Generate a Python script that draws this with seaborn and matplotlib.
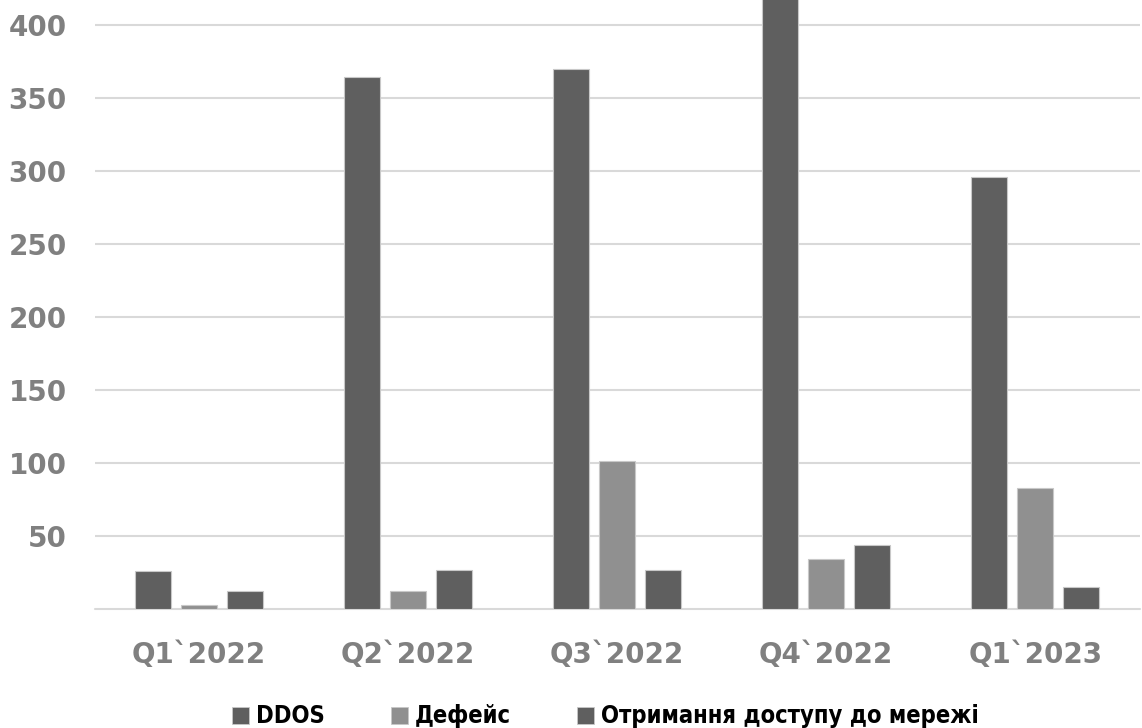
import pandas as pd
import seaborn as sns
import matplotlib.pyplot as plt
from matplotlib.patches import Patch

quarters = ["Q1`2022", "Q2`2022", "Q3`2022", "Q4`2022", "Q1`2023"]
series = ["DDOS", "Дефейс", "Отримання доступу до мережі"]
ddos = [26, 364, 370, 430, 296]
defeis = [3, 12, 101, 34, 83]
access = [12, 27, 27, 44, 15]
colors = ["#5f5f5f", "#909090", "#5f5f5f"]

df = pd.DataFrame({
    "Quarter": quarters * 3,
    "Type": [s for s in series for _ in quarters],
    "Value": ddos + defeis + access,
})

sns.set_style("white")
plt.rcParams["font.family"] = ["DejaVu Sans"]

fig = plt.figure(figsize=(11.42, 7.28), dpi=100)
ax = fig.add_axes([0.0828, 0.1635, 0.9152, 0.8365])

sns.barplot(data=df, x="Quarter", y="Value", hue="Type", order=quarters,
            hue_order=series, palette=colors, width=0.66, gap=0.22,
            edgecolor="#c8c8c8", linewidth=0.8, legend=False, ax=ax, zorder=3)

ax.set_ylim(0, 417)
ax.set_xlim(-0.5, 4.5)
ax.set_yticks([50, 100, 150, 200, 250, 300, 350, 400])
ax.yaxis.grid(True, color="#d9d9d9", linewidth=1.5, zorder=0)
ax.axhline(0, color="#d9d9d9", linewidth=1.5, zorder=2, clip_on=False)
for s in ax.spines.values():
    s.set_visible(False)
ax.tick_params(axis="both", length=0, labelsize=20, labelcolor="#808080")
ax.tick_params(axis="x", pad=23)
ax.tick_params(axis="y", pad=20)
for lab in ax.get_xticklabels() + ax.get_yticklabels():
    lab.set_fontweight("bold")
ax.set_xlabel("")
ax.set_ylabel("")

handles = [Patch(facecolor=c, edgecolor="#c8c8c8", linewidth=0.6) for c in colors]
fig.legend(handles, series, loc="center", bbox_to_anchor=(0.53, 0.016),
           ncol=3, frameon=False, handlelength=0.72, handleheight=0.72,
           handletextpad=0.3, columnspacing=2.8, labelcolor="black",
           prop={"family": "DejaVu Sans", "stretch": "condensed",
                 "weight": "bold", "size": 17})

fig.savefig("out.png", dpi=100)
